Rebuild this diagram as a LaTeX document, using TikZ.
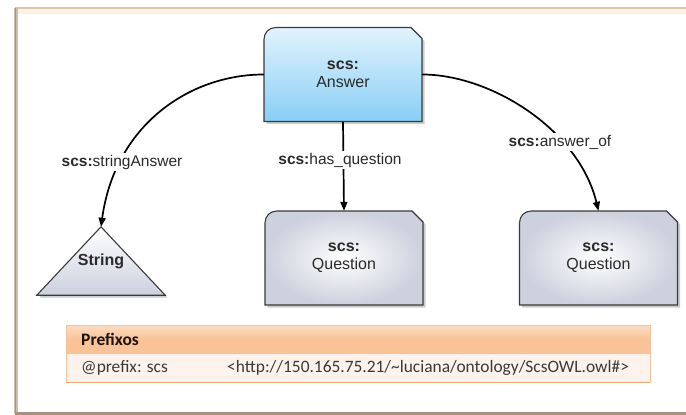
\documentclass[tikz,border=0pt]{standalone}
\usepackage{fontspec}
\setmainfont{Liberation Sans}
\newfontfamily\tablefont{Carlito}
\usetikzlibrary{arrows.meta,backgrounds}

\definecolor{framebrown}{HTML}{A8927E}
\definecolor{frametan}{HTML}{DCC6AA}
\definecolor{frameglow}{HTML}{FDF1E4}
\definecolor{edgegray}{HTML}{3A3A3A}
\definecolor{ansTop}{HTML}{E2F3FD}
\definecolor{ansBot}{HTML}{88CEF6}
\definecolor{qEdge}{HTML}{CDD0DD}
\definecolor{triBot}{HTML}{CCD0DE}
\definecolor{hdrFill}{HTML}{F9C397}
\definecolor{hdrTop}{HTML}{FBDCC2}
\definecolor{rowFill}{HTML}{FDF3EC}
\definecolor{tblLine}{HTML}{F1C3A0}
\definecolor{tblEdge}{HTML}{EFA878}
\definecolor{labelInk}{HTML}{2A2A2A}
\definecolor{tableInk}{HTML}{3A3A3A}

% card outline: rounded top-left corner, clipped top-right corner
\newcommand\cardoutline[2]{(#1-67,#2-47) -- (#1+68,#2-47) -- (#1+79,#2-36)
  -- (#1+79,#2+47) -- (#1-79,#2+47) -- (#1-79,#2-35)
  .. controls (#1-79,#2-42) and (#1-74,#2-47) .. (#1-67,#2-47) -- cycle}

\begin{document}
\begin{tikzpicture}[x=1pt,y=-1pt,
  card/.style={minimum width=158pt, minimum height=94pt, inner sep=0pt,
    align=center, font=\fontsize{16}{19}\selectfont, text=labelInk},
  rel/.style={fill=white, inner sep=2pt, font=\fontsize{15.5}{18}\selectfont,
    text=labelInk},
  link/.style={line width=1.7pt, -{Triangle[length=9pt,width=7pt]}},
  outline/.style={draw=edgegray, line width=1.1pt},
  castshadow/.style={fill=black, opacity=.2},
  tabletext/.style={anchor=west, inner sep=0pt, text=tableInk,
    font=\tablefont\fontsize{17.4}{20}\selectfont},
]
\useasboundingbox (0,0) rectangle (686,415);

% nodes
\node[card] (ans) at (343,74.5) {\textbf{scs:}\\[-1pt]Answer};
\node[card] (q1) at (344,258) {\textbf{scs:}\\[-1pt]Question};
\node[card] (q2) at (598.5,258) {\textbf{scs:}\\[-1pt]Question};
\node[minimum width=128pt, minimum height=68pt, inner sep=0pt,
  font=\fontsize{16}{19}\selectfont\bfseries, text=labelInk] (str) at (101,261)
  {\raisebox{-7pt}{String}};

\begin{scope}[on background layer]
  \fill[white] (0,0) rectangle (686,415);
  % page frame
  \fill[frameglow] (17,9) rectangle (686,14);
  \draw[frametan, line width=1.3pt] (15,8) -- (686,8);
  \draw[framebrown!60, line width=4pt] (16,8) -- (16,414);
  \draw[framebrown, line width=1.8pt] (15.5,8) -- (15.5,414);
  \draw[framebrown, line width=2.4pt] (15,413.5) -- (686,413.5);
  % shadows
  \begin{scope}[shift={(2.5,2.5)}]
    \fill[castshadow] \cardoutline{343}{74.5};
    \fill[castshadow] \cardoutline{344}{258};
    \fill[castshadow] \cardoutline{598.5}{258};
    \fill[castshadow] (101,227) -- (165,295) -- (37,295) -- cycle;
  \end{scope}
  % fills and outlines
  \shade[top color=ansTop, bottom color=ansBot] \cardoutline{343}{74.5};
  \draw[outline] \cardoutline{343}{74.5};
  \shade[inner color=white, outer color=qEdge] \cardoutline{344}{258};
  \draw[outline] \cardoutline{344}{258};
  \shade[inner color=white, outer color=qEdge] \cardoutline{598.5}{258};
  \draw[outline] \cardoutline{598.5}{258};
  \shade[top color=white, bottom color=triBot]
    (str.north) -- (str.south east) -- (str.south west) -- cycle;
  \draw[outline, line join=miter]
    (str.north) -- (str.south east) -- (str.south west) -- cycle;
  % prefix table
  \shade[top color=hdrTop, bottom color=hdrFill, middle color=hdrFill]
    (66,325) rectangle (650,353);
  \fill[rowFill] (66,353) rectangle (650,382);
  \draw[tblLine, line width=0.8pt] (66,325) rectangle (650,382);
  \draw[tblLine, line width=0.8pt] (66,353) -- (650,353);
  \draw[tblEdge, line width=1pt] (66,382) -- (650,382);
\end{scope}

% relations
\draw[link] (ans.west) .. controls +(-74,0) and +(14,-102) .. (str.north);
\draw[link] (ans.south) -- (q1.north);
\draw[link] (ans.east) .. controls +(68,0) and +(-20,-82) .. (q2.north);

\node[rel] (l1) at (122,162) {\textbf{scs:}stringAnswer};
\node[rel] (l2) at (340,160) {\textbf{scs:}has\_question};
\node[rel] (l3) at (560,142) {\textbf{scs:}answer\_of};

% prefix table text
\node[tabletext, font=\tablefont\fontsize{17.5}{20}\selectfont\bfseries,
  text=black!85!brown] (pfxhead) at (81,339) {Prefixos};
\node[tabletext] (pfxname) at (81,367.5) {@prefix: scs};
\node[tabletext] (pfxuri) at (227,367.5)
  {<http://150.165.75.21/\textasciitilde luciana/ontology/ScsOWL.owl\#>};
\end{tikzpicture}
\end{document}
